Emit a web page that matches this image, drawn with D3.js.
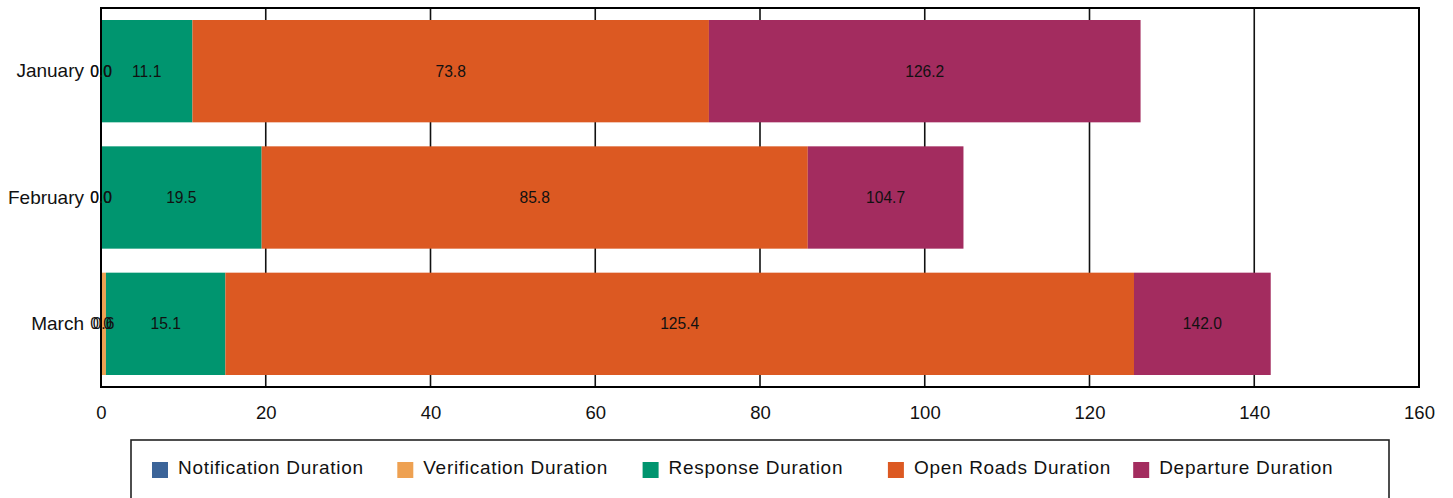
<!DOCTYPE html>
<html>
<head>
<meta charset="utf-8">
<script src="https://cdn.jsdelivr.net/npm/d3@7/dist/d3.min.js"></script>
<style>
  html, body { margin: 0; padding: 0; background: #fff; }
  svg { display: block; font-family: "Liberation Sans", Arial, sans-serif; }
</style>
</head>
<body>
<svg id="chart" width="1453" height="498"></svg>
<script>
// Categories and series
const categories = ["January", "February", "March"];
const seriesNames = ["Notification Duration", "Verification Duration", "Response Duration", "Open Roads Duration", "Departure Duration"];
// Cumulative end values per series (as labelled in the chart)
const notification = [0.0, 0.0, 0.0];
const verification = [0.0, 0.0, 0.6];
const response = [11.1, 19.5, 15.1];
const openRoads = [73.8, 85.8, 125.4];
const departure = [126.2, 104.7, 142.0];
const xTicks = [0, 20, 40, 60, 80, 100, 120, 140, 160];
const colors = ["#3b6499", "#eea152", "#00956f", "#dc5922", "#a32c5f"];

const seriesValues = [notification, verification, response, openRoads, departure];

const svg = d3.select("#chart");
const mLeft = 101, mRight = 1419, mTop = 8, mBottom = 387;

const x = d3.scaleLinear().domain([0, 160]).range([mLeft, mRight]);
const y = d3.scaleBand().domain(categories).range([mTop, mBottom]).paddingInner(0.19).paddingOuter(0.095);
const color = d3.scaleOrdinal().domain(seriesNames).range(colors);

// gridlines
svg.append("g")
  .selectAll("line")
  .data(xTicks.filter(t => t > 0 && t < 160))
  .join("line")
  .attr("x1", d => x(d)).attr("x2", d => x(d))
  .attr("y1", mTop).attr("y2", mBottom)
  .attr("stroke", "#111").attr("stroke-width", 1.6);

// segments
const segs = [];
categories.forEach((c, i) => {
  let prev = 0;
  seriesNames.forEach((s, j) => {
    const end = seriesValues[j][i];
    segs.push({cat: c, series: s, start: prev, end: end});
    prev = end;
  });
});

svg.append("g")
  .selectAll("rect")
  .data(segs)
  .join("rect")
  .attr("x", d => x(d.start))
  .attr("width", d => Math.max(0, x(d.end) - x(d.start)))
  .attr("y", d => y(d.cat))
  .attr("height", y.bandwidth())
  .attr("fill", d => color(d.series));

// frame
svg.append("rect")
  .attr("x", mLeft).attr("y", mTop)
  .attr("width", mRight - mLeft).attr("height", mBottom - mTop)
  .attr("fill", "none").attr("stroke", "#000").attr("stroke-width", 2);

// value labels
svg.append("g")
  .selectAll("text")
  .data(segs)
  .join("text")
  .attr("x", d => x((d.start + d.end) / 2))
  .attr("y", d => y(d.cat) + y.bandwidth() / 2)
  .attr("dy", "0.35em")
  .attr("text-anchor", "middle")
  .attr("font-size", "15.6px")
  .attr("fill", "#111")
  .text(d => d.end.toFixed(1));

// x axis
const xAxis = d3.axisBottom(x).tickValues(xTicks).tickSize(0).tickPadding(19).tickFormat(d3.format("d"));
const gx = svg.append("g").attr("transform", `translate(0,${mBottom})`).call(xAxis);
gx.select(".domain").remove();
gx.selectAll("text").attr("font-size", "18.5px").attr("fill", "#111").attr("font-family", "Liberation Sans, Arial, sans-serif");

// y axis
const yAxis = d3.axisLeft(y).tickSize(0).tickPadding(17);
const gy = svg.append("g").attr("transform", `translate(${mLeft},0)`).call(yAxis);
gy.select(".domain").remove();
gy.selectAll("text").attr("font-size", "19px").attr("fill", "#111").attr("font-family", "Liberation Sans, Arial, sans-serif");

// legend
const lg = svg.append("g");
lg.append("rect")
  .attr("x", 131).attr("y", 440).attr("width", 1258).attr("height", 90)
  .attr("fill", "#fff").attr("stroke", "#222").attr("stroke-width", 1.6);
const items = lg.selectAll("g.item")
  .data(seriesNames)
  .join("g")
  .attr("class", "item")
  .attr("transform", (d, i) => `translate(${152 + i * 245.3},462)`);
items.append("rect").attr("width", 16).attr("height", 16).attr("fill", d => color(d));
items.append("text")
  .attr("x", 26).attr("y", 12)
  .attr("font-size", "19px")
  .attr("letter-spacing", "0.7px")
  .attr("fill", "#111")
  .text(d => d);
</script>
</body>
</html>
